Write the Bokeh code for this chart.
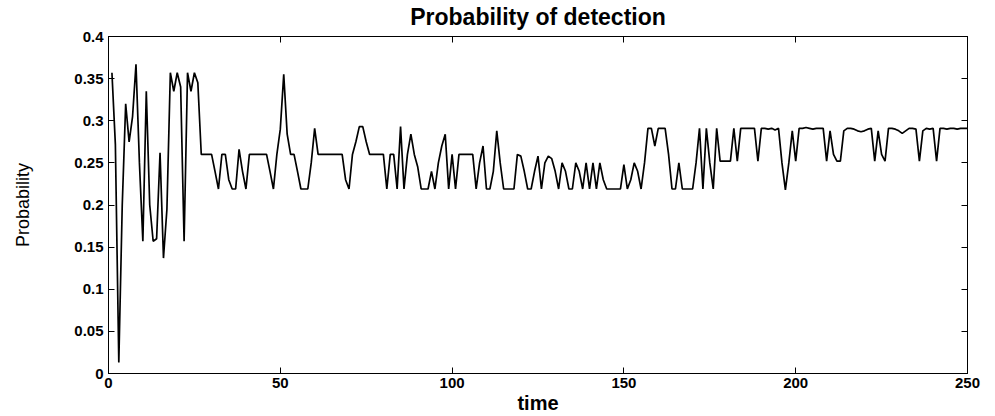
from bokeh.plotting import figure
from bokeh.models import LinearAxis, Range1d, FixedTicker
from bokeh.embed import file_html
from bokeh.resources import INLINE

title_text = "Probability of detection"
x_label = "time"
y_label = "Probability"

x_ticks = [0, 50, 100, 150, 200, 250]
y_ticks = [0, 0.05, 0.1, 0.15, 0.2, 0.25, 0.3, 0.35, 0.4]
y_tick_labels = ["0", "0.05", "0.1", "0.15", "0.2", "0.25", "0.3", "0.35", "0.4"]

time = list(range(1, 251))
prob = [
    0.357, 0.272, 0.013, 0.200, 0.320, 0.275, 0.305, 0.367, 0.250, 0.157,
    0.335, 0.200, 0.157, 0.160, 0.262, 0.137, 0.195, 0.357, 0.335, 0.357,
    0.340, 0.157, 0.357, 0.335, 0.357, 0.345, 0.260, 0.260, 0.260, 0.260,
    0.240, 0.219, 0.260, 0.260, 0.230, 0.219, 0.219, 0.266, 0.240, 0.219,
    0.260, 0.260, 0.260, 0.260, 0.260, 0.260, 0.240, 0.219, 0.260, 0.290,
    0.355, 0.284, 0.260, 0.260, 0.240, 0.219, 0.219, 0.219, 0.250, 0.291,
    0.260, 0.260, 0.260, 0.260, 0.260, 0.260, 0.260, 0.260, 0.230, 0.219,
    0.260, 0.275, 0.293, 0.293, 0.275, 0.260, 0.260, 0.260, 0.260, 0.260,
    0.219, 0.260, 0.260, 0.219, 0.293, 0.219, 0.260, 0.284, 0.260, 0.245,
    0.219, 0.219, 0.219, 0.240, 0.219, 0.250, 0.270, 0.284, 0.219, 0.260,
    0.219, 0.260, 0.260, 0.260, 0.260, 0.260, 0.219, 0.250, 0.270, 0.219,
    0.219, 0.240, 0.288, 0.250, 0.219, 0.219, 0.219, 0.219, 0.260, 0.258,
    0.240, 0.219, 0.219, 0.240, 0.258, 0.219, 0.250, 0.258, 0.255, 0.240,
    0.219, 0.250, 0.240, 0.219, 0.219, 0.250, 0.240, 0.219, 0.250, 0.219,
    0.250, 0.219, 0.250, 0.230, 0.219, 0.219, 0.219, 0.219, 0.219, 0.248,
    0.219, 0.230, 0.250, 0.240, 0.219, 0.250, 0.291, 0.291, 0.270, 0.291,
    0.291, 0.291, 0.260, 0.219, 0.219, 0.250, 0.219, 0.219, 0.219, 0.219,
    0.250, 0.291, 0.219, 0.291, 0.250, 0.219, 0.291, 0.252, 0.252, 0.252,
    0.252, 0.291, 0.252, 0.291, 0.291, 0.291, 0.291, 0.291, 0.252, 0.291,
    0.291, 0.290, 0.291, 0.289, 0.291, 0.250, 0.218, 0.250, 0.288, 0.252,
    0.291, 0.291, 0.292, 0.291, 0.290, 0.291, 0.291, 0.291, 0.252, 0.288,
    0.260, 0.252, 0.252, 0.288, 0.291, 0.291, 0.290, 0.288, 0.287, 0.288,
    0.290, 0.291, 0.252, 0.288, 0.260, 0.252, 0.291, 0.291, 0.290, 0.288,
    0.285, 0.288, 0.291, 0.291, 0.290, 0.252, 0.288, 0.291, 0.290, 0.291,
    0.252, 0.291, 0.291, 0.290, 0.291, 0.291, 0.290, 0.291, 0.291, 0.291,
]

FONT = "Liberation Sans"

p = figure(
    width=995, height=416,
    x_range=Range1d(0, 250), y_range=Range1d(0, 0.4),
    output_backend="svg", toolbar_location=None,
    x_axis_location=None, y_axis_location=None,
    min_border_left=108, min_border_right=28,
    min_border_top=35, min_border_bottom=43,
    background_fill_color="white", border_fill_color="white",
)
p.grid.visible = False
p.outline_line_color = "black"
p.outline_line_width = 1

p.line(time, prob, line_color="black", line_width=1.7)


def style(ax, labels=True):
    ax.axis_line_color = "black"
    ax.major_tick_line_color = "black"
    ax.major_tick_in = 6
    ax.major_tick_out = 0
    ax.minor_tick_line_color = None
    ax.major_label_text_font = FONT
    ax.major_label_text_font_style = "bold"
    ax.major_label_text_font_size = "15px"
    ax.major_label_text_color = "black"
    ax.axis_label_text_color = "black"
    if not labels:
        ax.major_label_text_font_size = "1px"
        ax.major_label_text_color = None
        ax.major_label_standoff = 0


xb = LinearAxis(ticker=FixedTicker(ticks=x_ticks), axis_label=x_label)
style(xb)
xb.major_label_standoff = 4
xb.axis_label_text_font = FONT
xb.axis_label_text_font_style = "bold"
xb.axis_label_text_font_size = "20px"
xb.axis_label_standoff = 1
p.add_layout(xb, "below")

yl = LinearAxis(ticker=FixedTicker(ticks=y_ticks), axis_label=y_label)
style(yl)
yl.major_label_overrides = {v: s for v, s in zip(y_ticks, y_tick_labels)}
yl.major_label_standoff = 5
yl.axis_label_text_font = FONT
yl.axis_label_text_font_style = "normal"
yl.axis_label_text_font_size = "18px"
yl.axis_label_standoff = 38
p.add_layout(yl, "left")

xt = LinearAxis(ticker=FixedTicker(ticks=x_ticks), axis_label=title_text)
style(xt, labels=False)
xt.axis_label_text_font = FONT
xt.axis_label_text_font_style = "bold"
xt.axis_label_text_font_size = "23px"
xt.axis_label_standoff = 7
p.add_layout(xt, "above")

yr = LinearAxis(ticker=FixedTicker(ticks=y_ticks))
style(yr, labels=False)
p.add_layout(yr, "right")

open("out.html", "w").write(file_html(p, INLINE))
